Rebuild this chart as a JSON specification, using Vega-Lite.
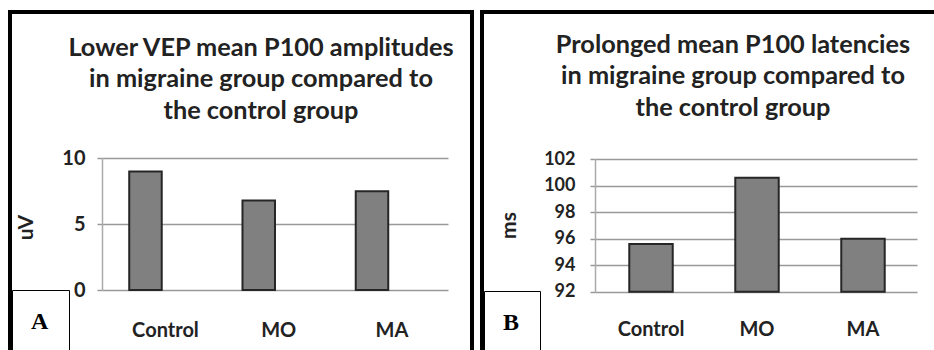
{
  "$schema": "https://vega.github.io/schema/vega-lite/v6.json",
  "autosize": {"type": "pad"},
  "padding": {"left": 8, "top": 10, "right": 0, "bottom": 0},
  "background": "white",
  "datasets": {
    "amp": [
      {"group": "Control", "uV": 9.0, "panel": "A"},
      {"group": "MO", "uV": 6.8, "panel": "A"},
      {"group": "MA", "uV": 7.5, "panel": "A"}
    ],
    "lat": [
      {"group": "Control", "ms": 95.6, "panel": "B"},
      {"group": "MO", "ms": 100.6, "panel": "B"},
      {"group": "MA", "ms": 96.0, "panel": "B"}
    ]
  },
  "spacing": 6,
  "hconcat": [
    {
      "width": 462,
      "height": 350,
      "data": {"name": "amp"},
      "title": {
        "text": ["Lower VEP mean P100 amplitudes", "in migraine group compared to", "the control group"],
        "offset": -112,
        "dx": 20
      },
      "mark": {"type": "bar", "stroke": "#262626", "strokeWidth": 2},
      "encoding": {
        "x": {
          "field": "group", "type": "nominal", "sort": null,
          "scale": {"range": [92, 438], "paddingInner": 0.713, "paddingOuter": 0.384, "align": 0.313},
          "axis": {"title": null, "offset": -72, "labelPadding": 40, "labelOffset": 20}
        },
        "y": {
          "field": "uV", "type": "quantitative",
          "scale": {"domain": [0, 10], "range": [278, 146.3], "nice": false, "zero": false},
          "axis": {"values": [0, 5, 10], "offset": -92, "labelPadding": 12, "labelFontSize": 20, "title": "uV", "titleX": -76, "titleY": 215}
        },
        "y2": {"datum": 0},
        "color": {
          "field": "panel", "type": "nominal",
          "scale": {"range": ["#808080"]},
          "legend": {"legendX": 2, "legendY": 278}
        }
      }
    },
    {
      "width": 460,
      "height": 350,
      "data": {"name": "lat"},
      "title": {
        "text": ["Prolonged mean P100 latencies", "in migraine group compared to", "the control group"],
        "offset": -109,
        "dx": 21
      },
      "mark": {"type": "bar", "stroke": "#262626", "strokeWidth": 2},
      "encoding": {
        "x": {
          "field": "group", "type": "nominal", "sort": null,
          "scale": {"range": [113, 435], "paddingInner": 0.59, "paddingOuter": 0.314, "align": 0.515},
          "axis": {"title": null, "offset": -70.3, "labelPadding": 38, "labelOffset": 0}
        },
        "y": {
          "field": "ms", "type": "quantitative",
          "scale": {"domain": [92, 102], "range": [279.7, 147.3], "nice": false, "zero": false},
          "axis": {"values": [92, 94, 96, 98, 100, 102], "offset": -113, "labelPadding": 15, "title": "ms", "titleX": -85.5, "titleY": 213}
        },
        "y2": {"datum": 92},
        "color": {
          "field": "panel", "type": "nominal",
          "scale": {"range": ["#808080"]},
          "legend": {"legendX": 2, "legendY": 279}
        }
      }
    }
  ],
  "resolve": {"scale": {"color": "independent"}, "legend": {"color": "independent"}},
  "config": {
    "view": {"stroke": "black", "strokeWidth": 4},
    "title": {
      "font": "Lato", "fontSize": 25.3, "fontWeight": "bold", "color": "#222222",
      "lineHeight": 31.5, "anchor": "middle", "frame": "group", "baseline": "middle"
    },
    "axis": {
      "labelFont": "Lato", "labelFontWeight": "bold", "labelFontSize": 18, "labelColor": "#222222",
      "titleFont": "Lato", "titleFontWeight": "bold", "titleFontSize": 21, "titleColor": "#222222",
      "gridColor": "#999999", "gridWidth": 1.5, "domainColor": "#aaaaaa", "domainWidth": 1.5,
      "tickColor": "#999999", "tickWidth": 1.5
    },
    "axisX": {"domain": false, "ticks": false, "grid": false, "labelAngle": 0, "labelBaseline": "middle", "labelFontSize": 20},
    "axisY": {"grid": true, "tickSize": 5, "titleAngle": -90, "titleBaseline": "middle", "titleAlign": "center"},
    "legend": {
      "orient": "none", "title": null,
      "labelFont": "Liberation Serif", "labelFontWeight": "bold", "labelFontSize": 24, "labelColor": "black",
      "symbolSize": 0, "symbolStrokeWidth": 0, "symbolOpacity": 0, "labelOffset": -25,
      "padding": 20, "strokeColor": "black"
    }
  }
}
